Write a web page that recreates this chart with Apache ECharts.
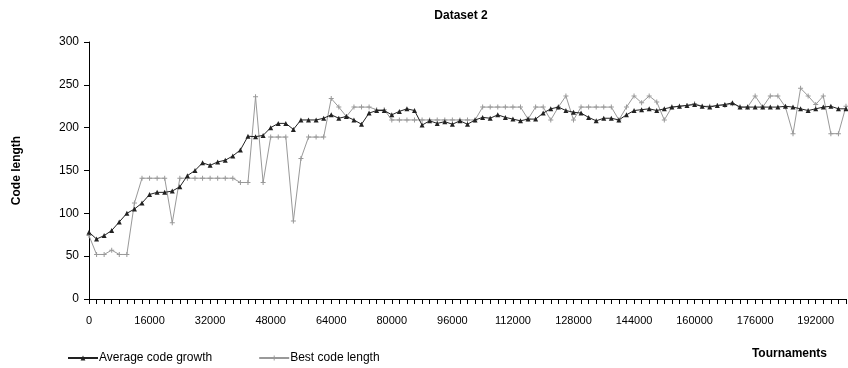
<!DOCTYPE html>
<html>
<head>
<meta charset="utf-8">
<script src="https://cdn.jsdelivr.net/npm/echarts@6/dist/echarts.min.js"></script>
<style>
  html, body { margin: 0; padding: 0; background: #fff; }
  #chart { width: 848px; height: 368px; }
</style>
</head>
<body>
<div id="chart"></div>
<script>
// tournaments, one sample every 2000
const tournaments = [];
for (let t = 0; t <= 200000; t += 2000) tournaments.push(String(t));

const avgGrowth = [
  78, 70, 74, 80, 90, 100, 105, 112, 122, 124.5,
  124.5, 126, 131, 144, 150, 159, 156, 160, 162, 167,
  174, 190, 189.5, 191, 200, 205, 205, 198, 209, 209,
  209, 211, 215, 211, 213, 209, 204, 217, 220, 220,
  215, 219, 222, 220, 203, 208, 205, 207, 204, 208,
  204, 209, 212, 211, 215, 212, 210, 208, 210, 210,
  217, 222, 224, 220, 218, 217, 212, 208, 211, 211,
  209, 215, 220, 221, 222, 220, 222, 224, 225, 226,
  227, 225, 224, 226, 227, 229, 224, 224, 224, 224,
  224, 224, 225, 224, 222, 220, 222, 224, 225, 222,
  222
];

const bestLength = [
  74, 52, 52, 57, 52, 52, 112, 141, 141, 141,
  141, 89, 141, 141, 141, 141, 141, 141, 141, 141,
  136, 136, 236, 136, 189, 189, 189, 91, 164, 189,
  189, 189, 234, 224, 213, 224, 224, 224, 221, 221,
  209, 209, 209, 209, 209, 209, 209, 209, 209, 209,
  209, 209, 224, 224, 224, 224, 224, 224, 210, 224,
  224, 209, 224, 237, 209, 224, 224, 224, 224, 224,
  209, 224, 237, 229, 237, 230, 209, 224, 225, 226,
  228, 225, 225, 226, 226, 228, 224, 224, 237, 224,
  237, 237, 224, 193, 246, 237, 227, 237, 193, 193,
  225
];

const plusSymbol = 'path://M4,0h2v4h4v2h-4v4h-2v-4h-4v-2h4z';
const font = 'Liberation Sans, Arial, sans-serif';

const chart = echarts.init(document.getElementById('chart'));

chart.setOption({
  animation: false,
  backgroundColor: '#fff',
  title: [
    {
      text: 'Dataset 2',
      left: 456,
      top: 5,
      textAlign: 'center',
      textStyle: { fontFamily: font, fontSize: 12, fontWeight: 'bold', color: '#000' }
    },
    {
      text: 'Tournaments',
      right: 16,
      top: 343,
      textStyle: { fontFamily: font, fontSize: 12, fontWeight: 'bold', color: '#000' }
    }
  ],
  legend: {
    left: 62,
    top: 347,
    itemWidth: 30,
    itemHeight: 6,
    itemGap: 46,
    textStyle: { fontFamily: font, fontSize: 12, color: '#000', padding: [0, 0, 0, -4] },
    data: ['Average code growth', 'Best code length']
  },
  grid: { left: 89, right: 2, top: 42, bottom: 69, containLabel: false },
  xAxis: {
    type: 'category',
    data: tournaments,
    boundaryGap: false,
    axisLine: { lineStyle: { color: '#000', width: 1 } },
    axisTick: { show: true, interval: 0, length: 5, lineStyle: { color: '#000' } },
    axisLabel: {
      interval: 7,
      margin: 16,
      fontFamily: font,
      fontSize: 11,
      color: '#000'
    },
    splitLine: { show: false }
  },
  yAxis: {
    type: 'value',
    min: 0,
    max: 300,
    interval: 50,
    name: 'Code length',
    nameLocation: 'middle',
    nameGap: 66,
    nameTextStyle: { fontFamily: font, fontSize: 12, fontWeight: 'bold', color: '#000' },
    axisLine: { show: true, lineStyle: { color: '#000', width: 1 } },
    axisTick: { show: true, length: 5, lineStyle: { color: '#000' } },
    axisLabel: { margin: 10, fontFamily: font, fontSize: 12, color: '#000' },
    splitLine: { show: false }
  },
  series: [
    {
      name: 'Average code growth',
      type: 'line',
      data: avgGrowth,
      symbol: 'triangle',
      symbolSize: 5,
      showAllSymbol: true,
      lineStyle: { color: '#222', width: 1 },
      itemStyle: { color: '#222' },
      z: 3
    },
    {
      name: 'Best code length',
      type: 'line',
      data: bestLength,
      symbol: plusSymbol,
      symbolSize: 5,
      showAllSymbol: true,
      lineStyle: { color: '#999', width: 1 },
      itemStyle: { color: '#999' },
      z: 2
    }
  ]
});
</script>
</body>
</html>
